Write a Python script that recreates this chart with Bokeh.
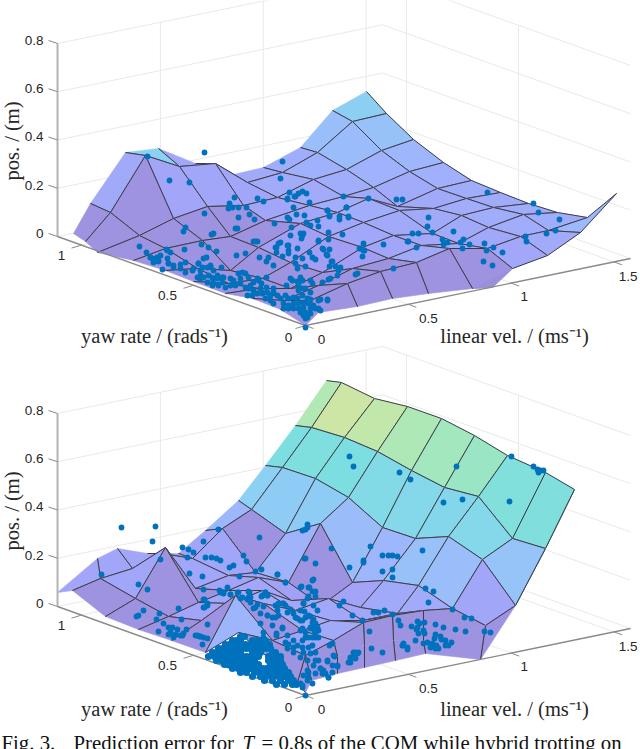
from bokeh.plotting import figure
from bokeh.embed import file_html
from bokeh.resources import INLINE
from bokeh.core.properties import value

# Axis ticks and labels
z_ticks = [0, 0.2, 0.4, 0.6, 0.8]
z_labels = ["0", "0.2", "0.4", "0.6", "0.8"]
yaw_ticks = [0, 0.5, 1]
yaw_labels = ["0", "0.5", "1"]
vel_ticks = [0, 0.5, 1, 1.5]
vel_labels = ["0", "0.5", "1", "1.5"]
VEL_MAX, YAW_MAX, Z_MAX = 1.58, 1.107, 0.8

# Nominal grid nodes of the two meshes (yaw listed from back to front)
top_vel = [0, 0.167, 0.333, 0.5, 0.667, 0.833, 1.0, 1.167, 1.333, 1.5]
top_yaw = [1.116, 0.992, 0.868, 0.744, 0.62, 0.496, 0.372, 0.248, 0.124, 0]
bot_vel = [0, 0.16, 0.32, 0.48, 0.64, 0.8, 0.96, 1.12, 1.28, 1.44]
bot_yaw = [1.22, 1.08, 0.94, 0.8, 0.66, 0.52, 0.38, 0.24, 0.1, 0]

# Mesh nodes as read in the 3-D view plane (a picture only gives the projection)
top_mesh = [
 [(.73,2.33),(.85,2.41),(.97,2.52),(1.33,2.60),(1.65,2.70),(1.93,2.81),(2.25,2.93),(2.52,2.98),(2.80,3.09),(3.05,3.25)],
 [(.90,2.03),(1.10,2.12),(1.39,2.35),(1.65,2.48),(1.97,2.68),(2.28,2.83),(2.58,2.88),(2.84,3.00),(3.10,3.00),(3.18,3.12)],
 [(1.25,1.52),(1.45,1.55),(1.73,2.18),(2.02,2.40),(2.30,2.70),(2.62,2.78),(2.90,2.88),(3.18,2.85),(3.47,2.83),(3.57,3.06)],
 [(1.58,1.48),(1.79,1.66),(2.07,2.06),(2.30,2.36),(2.58,2.47),(2.90,2.62),(3.22,2.72),(3.52,2.68),(3.80,2.71),(3.92,2.98)],
 [(1.95,1.63),(2.15,1.63),(2.43,2.05),(2.65,2.20),(3.00,2.23),(3.28,2.36),(3.62,2.47),(3.88,2.58),(4.16,2.62),(4.28,2.93)],
 [(2.29,1.75),(2.47,1.82),(2.77,1.97),(3.09,2.05),(3.37,2.12),(3.63,2.22),(3.93,2.35),(4.21,2.45),(4.49,2.48),(4.72,2.88)],
 [(2.63,1.67),(2.82,1.72),(3.13,1.79),(3.43,1.96),(3.68,1.98),(3.99,2.10),(4.32,2.33),(4.58,2.43),(4.87,2.48),(5.12,2.68)],
 [(3.00,1.47),(3.17,1.52),(3.46,1.69),(3.73,1.87),(3.97,2.06),(4.33,2.08),(4.61,2.15),(4.88,2.27),(5.20,2.36),(5.47,2.55)],
 [(3.32,1.10),(3.52,1.21),(3.81,1.50),(4.09,1.71),(4.37,1.88),(4.66,1.98),(4.93,2.07),(5.23,2.14),(5.48,2.30),(5.80,2.32)],
 [(3.66,.91),(3.86,1.13),(4.13,1.39),(4.43,1.62),(4.71,1.80),(5.00,1.92),(5.28,2.03),(5.57,2.12),(5.87,2.17),(6.16,1.93)],
]
top_skirt = [(4.72,2.88),(4.92,2.87),(5.12,2.68),(4.87,2.48)]

bot_mesh = [
 [(.57,2.22),(.72,2.20),(1.05,2.46),(1.38,2.59),(1.71,2.70),(2.05,2.82),(2.38,2.62),(2.97,3.12),(3.00,3.16),(3.05,3.22)],
 [(.97,1.88),(1.00,2.08),(1.35,2.28),(1.68,2.46),(2.01,2.50),(2.35,2.25),(2.72,2.70),(3.05,2.85),(3.08,2.98),(3.11,3.10)],
 [(1.17,1.78),(1.32,1.98),(1.65,1.77),(1.98,2.32),(2.30,2.33),(2.63,2.33),(3.02,2.60),(3.33,2.70),(3.37,2.86),(3.37,3.03)],
 [(1.47,1.83),(1.62,1.83),(1.95,2.18),(2.28,2.20),(2.62,2.20),(2.95,2.40),(3.30,2.50),(3.63,2.52),(3.64,2.75),(3.64,2.97)],
 [(1.78,1.83),(1.92,1.88),(2.28,2.05),(2.58,2.07),(2.91,2.30),(3.28,2.28),(3.62,2.50),(3.92,2.45),(3.93,2.70),(3.95,2.90)],
 [(2.05,1.60),(2.22,1.58),(2.55,2.02),(2.88,2.12),(3.21,2.35),(3.60,2.37),(3.97,2.43),(4.23,2.40),(4.23,2.70),(4.25,2.83)],
 [(2.38,1.30),(2.51,1.39),(2.85,1.63),(3.20,1.53),(3.52,2.12),(3.83,2.10),(4.18,2.15),(4.52,2.38),(4.85,2.55),(4.80,2.89)],
 [(2.65,.95),(2.82,.97),(3.15,1.08),(3.48,1.27),(3.82,1.57),(4.15,1.68),(4.48,1.66),(4.82,1.89),(5.15,2.35),(5.15,2.35)],
 [(2.95,.55),(3.11,.57),(3.44,.67),(3.77,.81),(4.11,1.00),(4.44,1.17),(4.78,1.26),(5.12,1.68),(5.45,1.78),(5.45,1.78)],
 [(3.26,.10),(3.41,.12),(3.74,.28),(4.07,.36),(4.41,.48),(4.74,.65),(5.07,.85),(5.45,1.02),(5.74,1.19),(5.74,1.19)],
]

# Per-cell tone corrections where the lit surface differs from its height: (column, row, height-tone)
top_tone = [(1,0,.11),(2,0,.32),(3,0,.09),(4,0,.09),(5,0,.11),(6,0,.13),(2,1,.08),(3,1,.09),(4,1,.09)]
top_dark = [(0,0),(0,1),(1,1),(0,2),(1,2),(2,2),(3,2),(0,3),(1,3),(2,3),(3,3),(0,4),(1,4),(2,4),(0,5),(1,5),(2,5),(0,6),(1,6),(2,6),(0,7),(1,7),(2,7),(3,7),(0,8),(1,8),(2,8),(3,8),(4,8),(5,8)]
bot_tone = [(0,5,.17),(6,7,.09),(0,0,.08),(1,0,.09),(2,0,.09),(3,0,.09),(4,0,.09),(1,1,.09),(2,1,.09),(3,1,.09),(4,1,.09)]
bot_dark = [(0,1),(0,2),(0,3),(0,4),(0,6),(0,7),(0,8),(1,2),(2,2),(1,7),(2,7),(3,7),(4,7),(5,7),(1,8),(2,8),(3,8),(4,8),(5,8),(6,8)]

# Measured samples, view-plane readings
top_dots = [(1.47,1.56),(2.04,1.52),(1.69,1.80),(1.89,1.82),(2.34,1.97),(2.57,1.98),(2.82,1.61),(2.80,1.78),(2.89,1.92),(2.95,1.96),(2.98,1.93),(3.02,1.91),(3.06,1.93),(2.87,1.98),
(2.63,2.01),(2.29,2.03),(2.28,2.08),(2.32,2.07),(2.38,2.07),(2.46,2.07),(2.04,2.13),(2.38,2.17),(2.49,2.14),(2.54,2.19),(2.35,2.28),(2.37,2.28),(1.85,2.27),(1.83,2.31),(2.13,2.33),(2.11,2.34),(2.01,2.44),(2.08,2.47),(2.16,2.51),(1.39,2.46),(1.46,2.52),(1.66,2.49),(1.70,2.52),(1.84,2.49),(2.36,2.55),(2.45,2.53),(2.53,2.41),(2.57,2.41),(2.59,2.57),(2.68,2.57),(2.66,2.61),(2.73,2.65),(2.76,2.47),(2.76,2.52),(2.80,2.42),(2.82,2.56),(2.88,2.53),(2.87,2.45),(2.88,2.50),(2.97,2.48),(3.09,2.52),(3.18,2.40),(3.22,2.48),(3.29,2.49),(3.28,2.39),(3.42,2.34),(3.28,2.32),(2.90,2.35),(2.91,2.27),(3.00,2.33),(3.02,2.35),(3.03,2.33),(3.01,2.38),(2.74,2.23),(2.87,2.17),(2.89,2.19),(2.96,2.14),(3.04,2.15),(3.06,2.22),(3.10,2.25),(3.17,2.20),(3.18,2.26),(3.29,2.15),(3.27,2.10),(3.39,2.16),(3.39,2.19),(3.48,2.17),(3.46,2.07),(3.43,1.96),(3.09,2.02),(2.93,2.07),(2.87,1.99),(2.94,1.96),
(1.50,2.57),(1.53,2.59),(1.57,2.57),(1.58,2.61),(1.53,2.62),(1.68,2.63),(1.73,2.65),(1.80,2.64),(1.85,2.62),(1.98,2.63),(2.03,2.58),(2.06,2.57),(2.02,2.67),(2.10,2.66),(2.21,2.67),(2.95,2.57),(3.02,2.58),(3.12,2.57),(3.15,2.59),(3.27,2.55),(3.32,2.61),(3.40,2.67),(2.95,2.63),(3.05,2.66),
(2.55,2.41),(2.78,2.43),(2.75,2.47),(2.88,2.45),(3.18,2.41),(3.63,2.43),(3.60,2.48),(3.63,2.50),(3.83,2.44),(4.08,2.41),(3.93,2.68),(3.57,2.73),(3.38,2.70),(3.30,2.78),(3.22,2.82),(3.10,2.80),(3.12,2.83),(3.00,2.77),(2.97,2.81),(2.90,2.78),(2.92,2.80),(2.86,2.85),(2.97,2.68),(2.66,2.77),(2.57,2.78),(2.61,2.83),(2.73,2.88),(2.66,2.87),(3.27,2.99),(3.18,3.00),
(1.93,2.68),(1.98,2.63),(2.00,2.70),(2.07,2.67),(2.10,2.65),(2.13,2.70),(2.08,2.75),(2.03,2.77),(1.97,2.77),(2.12,2.78),(2.17,2.75),(2.23,2.77),(2.22,2.82),(2.13,2.83),(2.18,2.85),(2.30,2.78),(2.33,2.80),(2.38,2.73),(2.42,2.72),(2.45,2.73),(2.48,2.77),(2.40,2.78),(2.35,2.85),(2.30,2.85),(2.25,2.87),(2.40,2.83),(2.45,2.87),(2.50,2.85),(2.53,2.82),(2.58,2.80),(2.48,2.88),(2.53,2.90),(2.60,2.88),(2.57,2.93),(2.52,2.95),(2.47,2.95),(2.62,2.93),(2.67,2.92),(2.65,2.98),(2.70,2.95),(2.73,2.92),(2.77,2.95),(2.70,3.00),(2.73,3.03),(2.80,2.98),(2.85,2.95),(2.88,2.98),(2.83,3.03),(2.88,3.05),(2.93,2.97),(2.98,2.90),(3.02,2.88),(2.97,2.98),(3.02,2.95),(3.07,2.98),(2.93,3.03),(2.98,3.03),(3.03,3.02),(3.08,3.03),(2.83,3.08),(2.88,3.08),(2.93,3.08),(2.98,3.08),(3.03,3.07),(3.10,3.08),(3.15,3.08),(3.18,3.08),(3.00,3.12),(3.05,3.12),(3.10,3.13),(3.03,3.15),(3.07,3.17),(3.05,3.18),(3.10,2.99),(3.13,3.05),(3.02,2.80),(2.98,2.85),(3.05,2.88),(3.10,2.92),(3.05,3.27),
(1.50,2.57),(1.55,2.58),(1.58,2.60),(1.67,2.50),(1.67,2.58),(1.68,2.63),(1.73,2.67),(1.80,2.68),(1.85,2.72),(1.92,2.70),(2.00,2.75),(2.00,2.78),(2.07,2.82),(2.12,2.85),(2.17,2.78),(2.22,2.77),(1.62,2.69),(1.60,2.55),
(3.68,1.98),(3.96,1.99),(4.02,1.99),(4.87,1.92),(5.33,2.03),(5.38,2.12),(5.59,2.19),(5.55,2.30),(5.46,2.33),(5.25,2.36),(5.26,2.41),(3.27,2.10),(3.46,2.07),(3.29,2.16),(3.48,2.16),(4.28,2.17),(4.27,2.26),(4.18,2.33),(4.12,2.33),(4.32,2.32),(4.53,2.31),(3.59,2.48),(3.64,2.50),(3.62,2.56),(4.07,2.41),(4.16,2.47),(4.42,2.39),(4.43,2.44),(4.47,2.42),(4.63,2.39),(4.60,2.42),(4.69,2.44),(4.62,2.48),(4.84,2.43),(4.86,2.50),(4.93,2.47),(5.02,2.52),(4.83,2.61),(4.92,2.65),(3.55,2.74),(3.35,2.66),(3.29,2.66),(3.37,2.75),(3.28,2.79),(3.23,2.49),(3.26,2.54),(3.31,2.61),(3.20,2.99),(3.27,3.00),(3.20,3.10)]

blob_dots = [(2.40,6.36),(2.44,6.36),(2.32,6.40),(2.36,6.40),(2.40,6.40),(2.52,6.40),(2.56,6.40),(2.60,6.40),(2.65,6.40),
(2.25,6.44),(2.29,6.44),(2.33,6.44),(2.37,6.44),(2.41,6.44),(2.45,6.44),(2.49,6.44),(2.53,6.44),(2.57,6.44),(2.61,6.44),(2.65,6.44),(2.69,6.44),
(2.18,6.48),(2.22,6.48),(2.26,6.48),(2.30,6.48),(2.34,6.48),(2.38,6.48),(2.42,6.48),(2.46,6.48),(2.50,6.48),(2.54,6.48),(2.58,6.48),(2.62,6.48),(2.66,6.48),(2.70,6.48),
(2.12,6.52),(2.16,6.52),(2.20,6.52),(2.24,6.52),(2.28,6.52),(2.32,6.52),(2.36,6.52),(2.40,6.52),(2.52,6.52),(2.56,6.52),(2.60,6.52),(2.72,6.52),(2.75,6.52),
(2.08,6.56),(2.14,6.56),(2.18,6.56),(2.22,6.56),(2.26,6.56),(2.30,6.56),(2.34,6.56),(2.38,6.56),(2.42,6.56),(2.46,6.56),(2.50,6.56),(2.54,6.56),(2.58,6.56),(2.68,6.56),(2.72,6.56),(2.76,6.56),(2.80,6.56),
(2.16,6.60),(2.20,6.60),(2.26,6.60),(2.32,6.60),(2.36,6.60),(2.42,6.60),(2.46,6.60),(2.50,6.60),(2.54,6.60),(2.68,6.60),(2.72,6.60),(2.76,6.60),(2.80,6.60),
(2.24,6.64),(2.28,6.64),(2.34,6.64),(2.40,6.64),(2.46,6.64),(2.50,6.64),(2.54,6.64),(2.58,6.64),(2.70,6.64),(2.74,6.64),(2.78,6.64),(2.82,6.64),
(2.32,6.68),(2.38,6.68),(2.44,6.68),(2.50,6.68),(2.56,6.68),(2.62,6.68),(2.66,6.68),(2.70,6.68),(2.74,6.68),(2.78,6.68),(2.84,6.68),
(2.40,6.72),(2.46,6.72),(2.54,6.72),(2.60,6.72),(2.66,6.72),(2.72,6.72),(2.78,6.72),(2.84,6.72),(2.88,6.72),
(2.52,6.76),(2.60,6.76),(2.66,6.76),(2.72,6.76),(2.78,6.76),(2.84,6.76),(2.90,6.76),(2.64,6.80),(2.72,6.80),(2.80,6.80),(2.88,6.80),(2.93,6.80),(2.76,6.84),(2.84,6.84),(2.92,6.84),(2.96,6.84)]

bot_dots = [(1.21,5.27),(1.55,5.26),(1.52,5.41),(1.82,5.47),(1.88,5.49),(1.93,5.52),(2.03,5.41),(2.18,5.29),(1.87,5.57),(2.05,5.57),(2.11,5.57),(2.16,5.58),(2.20,5.60),(2.43,5.55),(2.59,5.37),(3.04,5.58),(3.02,5.30),(3.05,5.29),(3.07,5.27),(3.07,5.24),(1.60,5.59),
(2.46,5.61),(2.29,5.67),(2.33,5.65),(2.55,5.71),(2.61,5.69),(1.89,5.73),(2.02,5.76),(2.39,5.76),(2.77,5.74),(2.85,5.82),(3.12,5.80),(3.09,5.87),(3.00,5.87),(3.15,5.91),(3.08,5.96),(1.38,5.84),(1.47,5.89),(2.03,5.89),(2.19,5.90),(2.23,5.92),(2.27,5.87),(2.30,5.94),(2.38,5.92),(2.48,5.91),(2.50,5.97),(2.42,5.97),(2.65,5.92),(2.67,5.95),(2.61,5.96),(2.47,5.99),(2.57,6.04),(2.53,6.08),(2.63,6.06),(2.67,6.15),(2.77,6.05),(2.82,6.03),(2.85,6.05),(2.78,6.15),(2.75,6.17),(2.90,6.09),(3.03,6.03),(3.00,6.10),(3.04,6.11),(2.95,6.17),(3.13,6.05),(3.17,6.10),(3.10,6.16),(3.13,6.19),(3.00,6.20),(2.07,6.05),(2.03,5.99),(2.04,6.07),(1.78,6.08),(1.43,6.10),(1.38,6.15),(1.36,6.16),(1.59,6.13),(1.56,6.19),(1.63,6.23),(1.81,6.19),(2.07,6.24),(1.68,6.27),(1.72,6.27),(1.77,6.29),(1.86,6.29),(1.58,6.31),(1.68,6.34),(1.75,6.34),(1.80,6.35),(1.83,6.33),(1.95,6.35),(1.99,6.36),(2.03,6.37),(2.07,6.38),(2.02,6.44),(2.60,6.23),(2.72,6.25),(2.82,6.28),(2.76,6.35),(2.63,6.37),(2.88,6.44),(2.93,6.47),(2.87,6.48),(2.93,6.52),(3.00,6.57),(3.03,6.52),(3.12,6.45),(3.10,6.53),(3.13,6.27),(3.18,6.30),
(1.01,5.74),(1.70,6.32),(1.73,6.37),(1.82,6.35),(1.97,6.35),(2.00,6.36),
(3.14,6.30),(3.15,6.23),(3.10,6.27),(3.05,6.32),(3.00,6.30),(3.08,6.37),(3.15,6.37),(3.18,6.37),(3.02,6.40),(3.12,6.22),(3.05,6.17),
(3.33,6.55),(3.15,6.60),(3.18,6.60),(3.13,6.65),(3.20,6.68),(3.27,6.60),(3.37,6.65),(3.23,6.73),(3.28,6.77),(3.15,6.73),(3.07,6.70),(3.00,6.83),(3.08,6.77),(3.02,6.87),(3.05,6.95),(3.07,6.80),(3.03,6.75),
(3.50,6.57),(3.53,6.52),(3.57,6.53),(3.55,6.58),(3.50,6.62),(3.69,6.31),(3.71,6.48),(3.82,6.52),(3.98,6.20),(4.00,6.25),(4.02,6.45),(4.07,6.47),(3.43,6.01),(3.39,6.05),(3.52,6.15),(3.62,6.20),(3.73,6.12),(3.78,6.12),(3.84,6.10),(3.92,6.14),
(4.25,5.88),(4.33,5.91),(4.28,6.02),(4.52,6.09),(4.64,6.17),(4.71,6.18),(4.84,6.31),(4.90,6.32),(3.49,5.67),(3.63,5.62),(3.82,5.55),(3.88,5.55),(3.97,5.56),(3.92,5.55),(3.82,5.71),(3.92,5.69),(3.92,5.77),
(4.55,6.29),(4.65,6.31),(4.43,6.27),(4.35,6.24),(4.24,6.22),(4.17,6.21),(4.11,6.26),(4.17,6.27),(4.19,6.23),(4.16,6.29),(4.18,6.33),(4.23,6.30),(4.24,6.33),(4.35,6.34),(4.40,6.36),(4.34,6.38),(4.41,6.39),(4.45,6.40),(4.51,6.42),(4.48,6.45),(4.45,6.45),(4.36,6.45),(4.32,6.43),(4.27,6.42),(4.23,6.43),(4.30,6.47),(4.35,6.48),(4.38,6.48),(4.15,6.40),(4.03,6.43),(4.07,6.49),(4.02,6.45),
(3.55,6.52),(3.50,6.58),(3.53,6.57),(3.58,6.52),(3.48,6.62),(3.37,6.66),(3.27,6.61),(3.34,6.56),(3.32,6.65),(3.29,6.45),(3.32,6.43),(3.20,6.68),(3.23,6.70),(3.28,6.77),(3.25,6.73),(3.32,6.72),(3.22,6.73),
(3.49,4.56),(3.53,4.66),(3.99,4.72),(4.10,4.79),(4.56,4.66),(4.43,5.02),(4.62,4.99),(5.09,5.01),(5.11,4.56),(5.33,4.66),(5.37,4.69),(5.40,4.70),(5.43,4.70),(5.38,4.72),(3.70,5.46),(4.22,5.50),(3.31,5.48),(3.63,5.60),
(2.77,5.74),(2.85,5.82),(3.01,5.86),(3.08,5.87),(3.13,5.79),(3.15,5.63),(3.05,5.58),(3.12,5.91),(3.15,5.96),(3.07,5.98),(3.03,6.03),(2.83,6.03),(2.78,6.03),(2.75,6.05),(2.65,5.92),(2.67,5.95),(2.62,5.95),(2.49,5.92),(2.37,5.92),(2.30,5.94),(2.20,5.92),(2.23,5.93),(2.07,6.03),(2.04,5.99),(2.03,6.07),(2.48,5.97),(2.40,5.98),(2.50,6.02),(2.55,6.07),(2.67,6.15),(2.60,6.13),(2.77,6.10),(2.72,6.17),(2.87,6.12),(2.93,6.13),(2.97,6.18),(3.02,6.20),(3.08,6.15),(3.13,6.22),(3.02,6.28),(3.10,6.28),(3.15,6.32),(3.05,6.37),(3.12,6.37),(3.17,6.27),(2.87,6.35),(2.82,6.27),(2.76,6.33),(2.63,6.32),(2.85,6.42),(2.93,6.40),(2.97,6.45),(3.02,6.47),(3.08,6.47),(3.15,6.52),(3.07,6.60),(3.08,6.72),(3.12,6.83),(3.02,6.85)]

# 3-D to view-plane projection of the plot box
def proj(vel, yaw, z, dy=0.0):
    return 3.05 + 2.057 * vel - 2.24 * yaw, 3.25 + dy - 0.424 * vel - 0.804 * yaw - 2.4125 * z

TONES = [(0,(155,143,218)),(.03,(160,155,240)),(.07,(163,163,248)),(.2,(157,185,252)),(.31,(140,208,243)),
         (.44,(125,222,226)),(.53,(135,226,210)),(.58,(170,232,185)),(.6,(195,231,170)),(.61,(214,228,160)),(1,(214,228,160))]
def tone(t):
    t = max(0, min(1, t))
    for (a, ca), (b, cb) in zip(TONES, TONES[1:]):
        if t <= b:
            f = (t - a) / (b - a)
            return "#%02x%02x%02x" % tuple(int(round(x + (y - x) * f)) for x, y in zip(ca, cb))
    return "#d6e4a0"

p = figure(width=640, height=749, x_range=(0, 6.40), y_range=(7.49, 0),
           output_backend="svg", toolbar_location=None, min_border=0, outline_line_color=None)
p.axis.visible = False
p.grid.visible = False
p.background_fill_color = "white"
p.border_fill_color = "white"

GRID = "#e9e9e9"
AX = "#8a8a8a"
TXT = "#262626"
SERIF = value("Liberation Serif")
SANS = value("Liberation Sans")

def seg(a, b, color, width):
    p.line([a[0], b[0]], [a[1], b[1]], line_color=color, line_width=width)

def box(dy):
    # back walls and floor grid
    for z in z_ticks:
        a = proj(0, YAW_MAX, z, dy); b = proj(VEL_MAX, YAW_MAX, z, dy); c = proj(VEL_MAX, 0, z, dy)
        seg(a, b, GRID, 1); seg(b, c, GRID, 1)
    for v in vel_ticks[1:]:
        a = proj(v, 0, 0, dy); b = proj(v, YAW_MAX, 0, dy); c = proj(v, YAW_MAX, Z_MAX, dy)
        seg(a, b, GRID, 1); seg(b, c, GRID, 1)
    for y in yaw_ticks[1:]:
        a = proj(0, y, 0, dy); b = proj(VEL_MAX, y, 0, dy); c = proj(VEL_MAX, y, Z_MAX, dy)
        seg(a, b, GRID, 1); seg(b, c, GRID, 1)

def axes(dy, ydy):
    seg(proj(0, YAW_MAX, 0, dy), proj(0, YAW_MAX, Z_MAX, dy), "#b3b3b3", 2)
    seg(proj(0, YAW_MAX, 0, dy), proj(0, 0, 0, dy), AX, 1.4)
    seg(proj(0, 0, 0, dy), proj(VEL_MAX, 0, 0, dy), AX, 1.4)
    for z, lab in zip(z_ticks, z_labels):
        a = proj(0, YAW_MAX, z, dy)
        seg(a, (a[0] - 0.09, a[1] - 0.03), AX, 1)
        p.text([a[0]], [a[1]], text=[lab], text_font=SANS, text_font_size="13.5px", text_color=TXT,
               text_align="right", text_baseline="middle", x_offset=-14, y_offset=-3)
    for y, lab, dx, dyy in zip(yaw_ticks, yaw_labels, [-17, -26, -20], [12, 10, 10]):
        a = proj(0, y, 0, dy)
        seg(a, (a[0] - 0.1, a[1] + 0.03), AX, 1)
        p.text([a[0]], [a[1]], text=[lab], text_font=SANS, text_font_size="13.5px", text_color=TXT,
               text_align="center", text_baseline="middle", x_offset=dx, y_offset=dyy)
    for v, lab, dx, dyy in zip(vel_ticks, vel_labels, [16, 20, 13, 14], [14, 14, 13, 15]):
        a = proj(v, 0, 0, dy)
        seg(a, (a[0] + 0.08, a[1] + 0.03), AX, 1)
        p.text([a[0]], [a[1]], text=[lab], text_font=SANS, text_font_size="13.5px", text_color=TXT,
               text_align="center", text_baseline="middle", x_offset=dx, y_offset=dyy)
    o = proj(0, 0, 0, dy)
    p.text([o[0]], [o[1]], text=["yaw rate / (rads\u207b\u00b9)"], text_font=SERIF, text_font_size="20.5px", text_color=TXT,
           text_align="center", text_baseline="middle", x_offset=-151, y_offset=10 + ydy)
    p.text([o[0]], [o[1]], text=["linear vel. / (ms\u207b\u00b9)"], text_font=SERIF, text_font_size="20.5px", text_color=TXT,
           text_align="center", text_baseline="middle", x_offset=209, y_offset=10 + ydy)
    c = proj(0, YAW_MAX, 0.4, dy)
    p.text([c[0]], [c[1]], text=["pos. / (m)"], text_font=SERIF, text_font_size="20.5px", text_color=TXT, angle=1.5708,
           text_align="center", text_baseline="middle", x_offset=-46, y_offset=1)

def surface(mesh, vels, yaws, dy, tone_fix, dark, row_drawn, col_drawn):
    fix = {(c, k): t for c, k, t in tone_fix}
    fix.update({n: 0.01 for n in dark})
    def height(c, k):
        return (proj(vels[c], yaws[k], 0)[1] - mesh[c][k][1]) / 2.4125
    for c in range(8, -1, -1):
        for k in range(0, 9):
            corners = [(c, k), (c + 1, k), (c + 1, k + 1), (c, k + 1)]
            hs = [max(0, height(*n)) for n in corners]
            t = 0.5 * max(hs) + 0.5 * min(hs)
            # faces turned towards the viewer read darker
            if t < 0.2 and (hs[0] + hs[1] - hs[2] - hs[3]) / 2 > 0.06:
                t = 0.01
            t = fix.get((c, k), t)
            col = tone(t)
            xs = [mesh[a][b][0] for a, b in corners]
            ys = [mesh[a][b][1] + dy for a, b in corners]
            p.patch(xs, ys, fill_color=col, line_color=col, line_width=0.6)
            ex, ey = [], []
            for n1, n2 in [(corners[0], corners[1]), (corners[3], corners[2])]:
                if row_drawn(n1[1], n1[0]):
                    ex.append([mesh[n1[0]][n1[1]][0], mesh[n2[0]][n2[1]][0]])
                    ey.append([mesh[n1[0]][n1[1]][1] + dy, mesh[n2[0]][n2[1]][1] + dy])
            for n1, n2 in [(corners[0], corners[3]), (corners[1], corners[2])]:
                if col_drawn(n1[0], n1[1]):
                    ex.append([mesh[n1[0]][n1[1]][0], mesh[n2[0]][n2[1]][0]])
                    ey.append([mesh[n1[0]][n1[1]][1] + dy, mesh[n2[0]][n2[1]][1] + dy])
            if ex:
                p.multi_line(ex, ey, line_color="#3c3c46", line_width=1)

box(0.0)
box(3.70)

p.patch([a for a, b in top_skirt], [b for a, b in top_skirt], fill_color="#9b8fda", line_color="#9b8fda")
surface(top_mesh, top_vel, top_yaw, 0.0, top_tone, top_dark,
        lambda k, c: (0 < k < 9) or (k == 9 and c >= 6),
        lambda c, k: c >= 1)
surface(bot_mesh, bot_vel, bot_yaw, 3.70, bot_tone, bot_dark,
        lambda k, c: (0 < k < 8) or (k == 8 and c >= 6),
        lambda c, k: c >= 1 or k >= 5)

axes(0.0, 0)
axes(3.70, 3)

p.scatter([d[0] for d in top_dots], [d[1] for d in top_dots], size=5.8, marker="circle",
          fill_color="#0072bd", line_color="#0072bd", line_width=0)
p.scatter([d[0] for d in bot_dots], [d[1] for d in bot_dots], size=5.8, marker="circle",
          fill_color="#0072bd", line_color="#0072bd", line_width=0)
p.scatter([d[0] for d in blob_dots], [d[1] for d in blob_dots], size=7.2, marker="circle",
          fill_color="#0072bd", line_color="#0072bd", line_width=0)

# Caption
cap_y = 7.42
for x0, s, style in [(0.01, "Fig. 3.", "normal"), (0.73, "Prediction error for", "normal"),
                     (2.42, "T", "italic"), (2.61, "= 0.8s of the COM while hybrid trotting on", "normal")]:
    p.text([x0], [cap_y], text=[s], text_font=SERIF, text_font_size="20.8px", text_font_style=style,
           text_color="#111111", text_align="left", text_baseline="alphabetic")

open("out.html", "w").write(file_html(p, INLINE))
